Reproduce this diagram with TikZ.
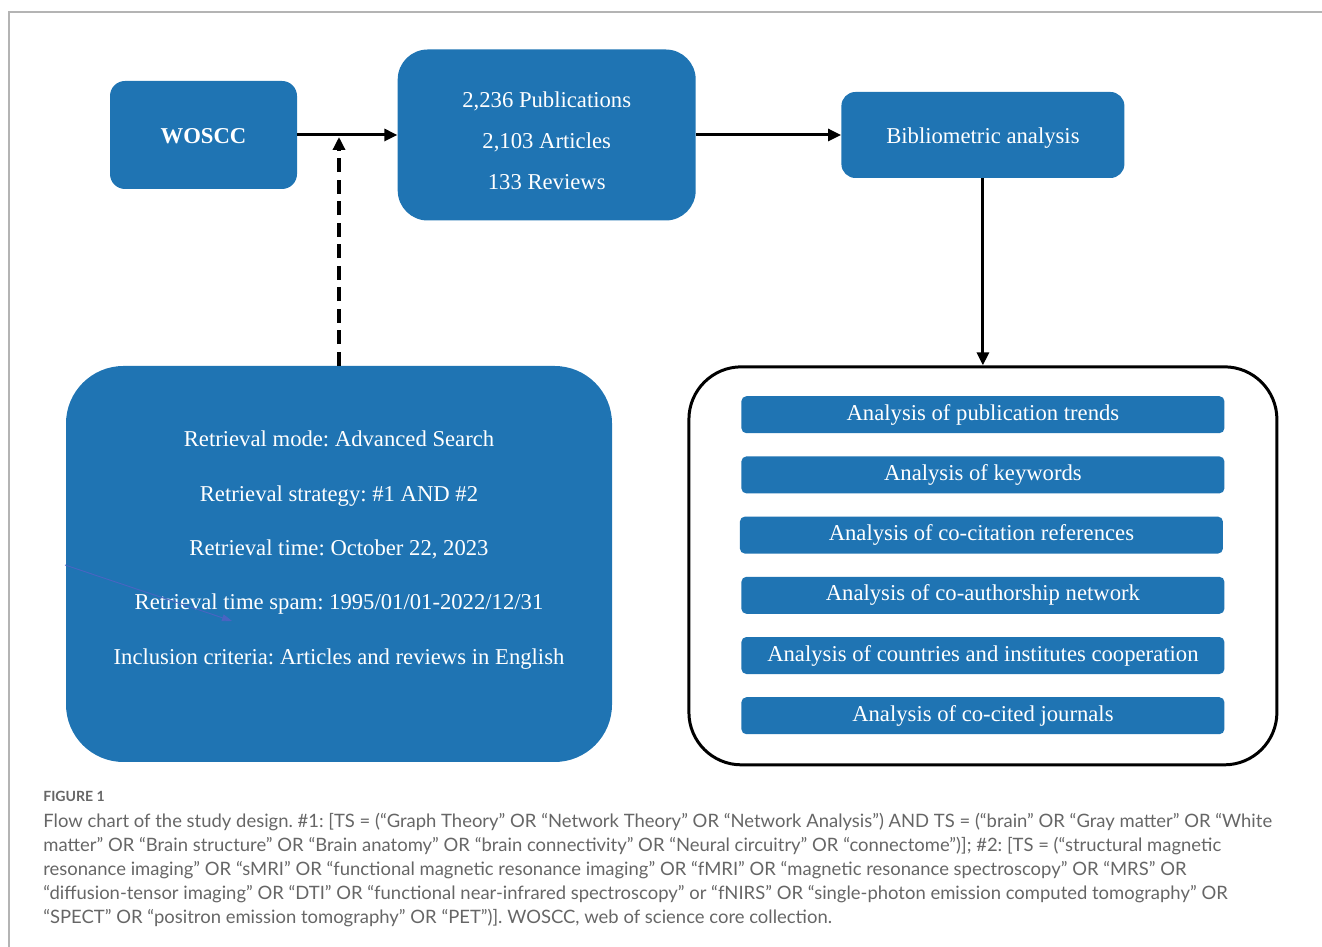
\documentclass[tikz,border=0pt]{standalone}
\usepackage{fontspec}
\setmainfont{Liberation Serif}
\newfontfamily\capfont{Lato}
\definecolor{wosblue}{HTML}{1F74B3}
\definecolor{capgray}{HTML}{666666}
\definecolor{framegray}{HTML}{B4B4B4}
\definecolor{strayline}{HTML}{4A64C2}
\usetikzlibrary{
  arrows.meta,
  positioning,
  calc,
}
\frenchspacing

\begin{document}
\begin{tikzpicture}[
  node distance=2cm,
  bluebox/.style={
    fill=wosblue,
    draw=none,
    text=white,
    align=center,
    inner sep=0pt,
    font=\fontsize{12.9}{15.5}\selectfont,
  },
  sourcebox/.style={
    bluebox,
    rounded corners=0.3cm,
    minimum width=3.74cm,
    minimum height=2.16cm,
    font=\fontsize{12.9}{15.5}\selectfont\bfseries,
  },
  countbox/.style={
    bluebox,
    rounded corners=0.6cm,
    minimum width=5.96cm,
    minimum height=3.42cm,
  },
  methodbox/.style={
    bluebox,
    rounded corners=0.28cm,
    minimum width=5.66cm,
    minimum height=1.72cm,
  },
  searchbox/.style={
    bluebox,
    rounded corners=1.15cm,
    minimum width=10.92cm,
    minimum height=7.92cm,
  },
  boxtext/.style={
    text=white,
    align=center,
    inner sep=0pt,
  },
  resultbox/.style={
    draw=black,
    fill=white,
    line width=1.7pt,
    rounded corners=1.05cm,
    minimum width=11.76cm,
    minimum height=7.96cm,
  },
  itembox/.style={
    bluebox,
    rounded corners=0.1cm,
    minimum width=9.66cm,
    minimum height=0.74cm,
  },
  arr/.style={
    -{Triangle[length=0.26cm, width=0.24cm]},
    line width=1.7pt,
    draw=black,
  },
  dashedarr/.style={
    arr,
    line width=1.9pt,
    dash pattern=on 0.28cm off 0.15cm,
  },
  figlabel/.style={
    font=\capfont\fontsize{8}{9}\selectfont\bfseries,
    text=capgray,
    inner sep=0pt,
  },
  captext/.style={
    font=\capfont\fontsize{10.5}{13.6}\selectfont,
    text=capgray,
    align=left,
    inner sep=0pt,
  },
]

\useasboundingbox (0,0) rectangle (26.44,18.94);

% --- page frame ---
\draw[framegray, line width=1.1pt] (0.18,0) -- (0.18,18.70) -- (26.44,18.70);

% =============================================================================
% Top row: source -> counts -> analysis
% =============================================================================
\node[sourcebox] (woscc) at (4.07,16.24) {\raisebox{-0.02cm}[\height][\depth]{WOSCC}};
\node[countbox, right=2cm of woscc] (counts) {};
\node[boxtext, font=\fontsize{12.9}{23.3}\selectfont] (countlines)
  at ([yshift=-0.12cm]counts.center) {%
  2,236 Publications\\
  2,103 Articles\\
  133 Reviews};
\node[methodbox, right=2.9cm of counts] (biblio)
  {\raisebox{-0.06cm}[\height][\depth]{Bibliometric analysis}};

\draw[arr] (woscc) -- (counts);
\draw[arr] (counts) -- (biblio);

% =============================================================================
% Search settings (left)
% =============================================================================
\node[searchbox] (search) at (6.78,7.66) {};
\node[boxtext, font=\fontsize{12.9}{30.9}\selectfont] (searchlines)
  at ([yshift=0.28cm]search.center) {%
  Retrieval mode: Advanced Search\\
  Retrieval strategy: \#1 AND \#2\\
  Retrieval time: October 22, 2023\\
  Retrieval time spam: 1995/01/01-2022/12/31\\
  Inclusion criteria: Articles and reviews in English};

% stray pointer inside the search box
\coordinate (straystart) at (1.30,7.64);
\coordinate (strayend) at (4.64,6.52);
\draw[-{Triangle[length=0.2cm, width=0.14cm]}, strayline, line width=0.5pt]
  (straystart) -- (strayend);

\coordinate (searchjoin) at ([yshift=-0.04cm]search.north |- woscc.east);
\draw[dashedarr] (search.north) -- (searchjoin);

% =============================================================================
% Analysis contents (right)
% =============================================================================
\node[resultbox, below=3.74cm of biblio] (results) {};

\node[itembox, below=0.61cm of results.north] (trends) {Analysis of publication trends};
\node[itembox, below=0.45cm of trends] (keywords) {Analysis of keywords};
\node[itembox, below=0.45cm of keywords, xshift=-0.03cm] (cocitation) {Analysis of co-citation references};
\node[itembox, below=0.45cm of cocitation, xshift=0.03cm] (coauthor) {Analysis of co-authorship network};
\node[itembox, below=0.45cm of coauthor] (countries) {Analysis of countries and institutes cooperation};
\node[itembox, below=0.45cm of countries] (journals) {Analysis of co-cited journals};

\draw[arr] (biblio) -- (results);

% =============================================================================
% Caption
% =============================================================================
\node[figlabel, anchor=base west] (figtag) at (0.86,2.91) {FIGURE 1};
\node[captext, below=0.22cm of figtag.south west, anchor=north west] (caption) {%
  Flow chart of the study design. \#1: [TS = (“Graph Theory” OR “Network Theory” OR “Network Analysis”) AND TS = (“brain” OR “Gray matter” OR “White\\
  matter” OR “Brain structure” OR “Brain anatomy” OR “brain connectivity” OR “Neural circuitry” OR “connectome”)]; \#2: [TS = (“structural magnetic\\
  resonance imaging” OR “sMRI” OR “functional magnetic resonance imaging” OR “fMRI” OR “magnetic resonance spectroscopy” OR “MRS” OR\\
  “diffusion-tensor imaging” OR “DTI” OR “functional near-infrared spectroscopy” or “fNIRS” OR “single-photon emission computed tomography” OR\\
  “SPECT” OR “positron emission tomography” OR “PET”)]. WOSCC, web of science core collection.};

\end{tikzpicture}
\end{document}
